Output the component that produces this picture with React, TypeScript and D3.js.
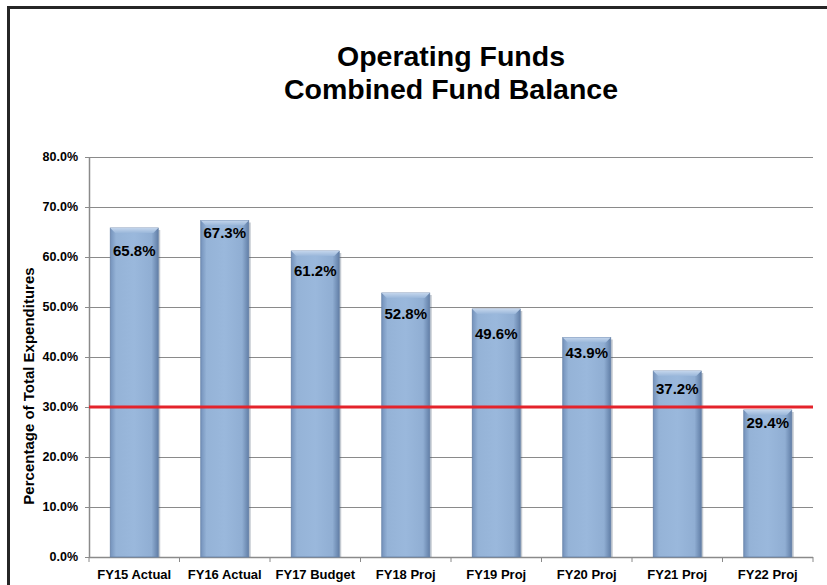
import React from "react";
import * as d3 from "d3";

// chart data
const categories = ["FY15 Actual", "FY16 Actual", "FY17 Budget", "FY18 Proj", "FY19 Proj", "FY20 Proj", "FY21 Proj", "FY22 Proj"];
const balances = [65.8, 67.3, 61.2, 52.8, 49.6, 43.9, 37.2, 29.4];
// where Excel put each data label (in % units, centre of text)
const labelAnchors = [61.2, 64.9, 57.2, 48.7, 44.7, 40.9, 33.6, 26.9];
const yTicks = [0, 10, 20, 30, 40, 50, 60, 70, 80];
const target = 30;
const titleLines = ["Operating Funds", "Combined Fund Balance"];
const yTitle = "Percentage of Total Expenditures";

const W = 827, H = 585;
const margin = { top: 157, right: 14, bottom: 28, left: 89 };
const FONT = "'Liberation Sans', Arial, sans-serif";

export default function App() {
  const x = d3.scaleBand<string>()
    .domain(categories)
    .range([margin.left, W - margin.right])
    .paddingInner(0.47)
    .paddingOuter(0.235);
  const step = x.step();
  const y = d3.scaleLinear().domain([0, 80]).range([H - margin.bottom, margin.top]);
  const fmt = d3.format(".1f");
  const x0 = margin.left, x1 = W - margin.right;
  const bandEdges = d3.range(categories.length + 1).map(i => x0 + i * step);

  return (
    <svg width={W} height={H} style={{ position: "absolute", left: 0, top: 0, background: "#fff" }}>
      <defs>
        <linearGradient id="barGrad" x1="0" x2="1" y1="0" y2="0">
          <stop offset="0" stopColor="#7492bb" />
          <stop offset="0.12" stopColor="#95b3d7" />
          <stop offset="0.5" stopColor="#9ab8dc" />
          <stop offset="0.86" stopColor="#90aed3" />
          <stop offset="1" stopColor="#627fa7" />
        </linearGradient>
        <linearGradient id="capGrad" x1="0" x2="0" y1="0" y2="1">
          <stop offset="0" stopColor="#c3d5ec" />
          <stop offset="1" stopColor="#9ab7da" />
        </linearGradient>
      </defs>

      {/* outer frame */}
      <rect x={0} y={0} width={W} height={H} fill="#fff" />
      <line x1={7} x2={W} y1={7.5} y2={7.5} stroke="#262626" strokeWidth={3} />
      <line x1={8.5} x2={8.5} y1={6} y2={H} stroke="#262626" strokeWidth={3} />

      {/* title */}
      {titleLines.map((t, i) => (
        <text key={t} x={451} y={66 + i * 33} textAnchor="middle" fontFamily={FONT} fontWeight="bold" fontSize={28.5} fill="#000">{t}</text>
      ))}

      {/* gridlines + y axis */}
      {yTicks.map(v => (
        <g key={v}>
          {v > 0 && <line x1={x0} x2={x1} y1={y(v) + 0.5} y2={y(v) + 0.5} stroke="#8a8a8a" strokeWidth={1} />}
          <line x1={x0 - 4} x2={x0} y1={y(v) + 0.5} y2={y(v) + 0.5} stroke="#8a8a8a" strokeWidth={1} />
          <text x={78} y={y(v)} dy="0.35em" textAnchor="end" fontFamily={FONT} fontWeight="bold" fontSize={12.5} fill="#000">{fmt(v)}%</text>
        </g>
      ))}
      <line x1={x0 + 0.5} x2={x0 + 0.5} y1={y(80)} y2={y(0)} stroke="#8a8a8a" strokeWidth={1.5} />
      <line x1={x0} x2={x1} y1={y(0) + 0.5} y2={y(0) + 0.5} stroke="#8a8a8a" strokeWidth={1.5} />
      {bandEdges.map((bx, i) => (
        <line key={i} x1={bx} x2={bx} y1={y(0)} y2={y(0) + 5} stroke="#8a8a8a" strokeWidth={1} />
      ))}

      {/* bars */}
      {categories.map((c, i) => {
        const bx = x(c)!, bw = x.bandwidth(), top = y(balances[i]), bh = y(0) - top;
        return (
          <g key={c}>
            <rect x={bx + 2} y={top + 2} width={bw} height={bh - 2} fill="#3c4f68" opacity={0.3} />
            <rect x={bx} y={top} width={bw} height={bh} fill="url(#barGrad)" stroke="#6682a8" strokeWidth={0.8} />
            <polygon points={`${bx},${top} ${bx + bw},${top} ${bx + bw - 5},${top + 5} ${bx + 5},${top + 5}`} fill="url(#capGrad)" />
          </g>
        );
      })}

      {/* 30% target line */}
      <line x1={x0} x2={x1} y1={y(target)} y2={y(target)} stroke="#e4232b" strokeWidth={3} />

      {/* data labels */}
      {categories.map((c, i) => (
        <text key={c} x={x(c)! + x.bandwidth() / 2} y={y(labelAnchors[i])} dy="0.36em" textAnchor="middle"
          fontFamily={FONT} fontWeight="bold" fontSize={15} fill="#000">{fmt(balances[i])}%</text>
      ))}

      {/* x labels */}
      {categories.map(c => (
        <text key={c} x={x(c)! + x.bandwidth() / 2} y={579} textAnchor="middle" fontFamily={FONT} fontWeight="bold" fontSize={13} fill="#000">{c}</text>
      ))}

      {/* y title */}
      <text transform={`translate(34, 386) rotate(-90)`} textAnchor="middle" fontFamily={FONT} fontWeight="bold" fontSize={15} fill="#000">{yTitle}</text>
    </svg>
  );
}
